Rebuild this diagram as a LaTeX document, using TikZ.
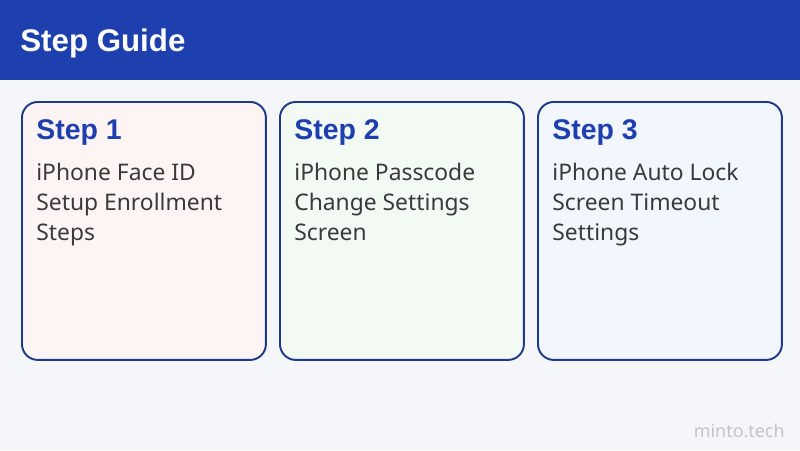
\documentclass[tikz,border=0pt]{standalone}
\usepackage{fontspec}
\setmainfont{Noto Sans}
\newfontfamily\headfont{Liberation Sans}
\usepackage{xcolor}
\usetikzlibrary{positioning}

\definecolor{pagebg}{HTML}{F5F6FA}
\definecolor{headblue}{HTML}{1E40AF}
\definecolor{cardline}{HTML}{1E3A8A}
\definecolor{redtint}{HTML}{FFF4F4}
\definecolor{greentint}{HTML}{F3FAF3}
\definecolor{bluetint}{HTML}{F1F6FF}
\definecolor{bodygray}{HTML}{3A3A3A}
\definecolor{markgray}{HTML}{C2C3CB}

\begin{document}
\begin{tikzpicture}[
  x=0.02cm, y=-0.02cm,
  card/.style={rectangle, rounded corners=9pt, draw=cardline, line width=1.1pt, minimum width=4.88cm, minimum height=5.16cm, anchor=north west, inner sep=0pt},
  stephead/.style={anchor=base west, inner sep=0pt, text=headblue, font=\headfont\fontsize{16.2}{18}\selectfont\bfseries},
  stepbody/.style={anchor=north west, inner sep=0pt, align=left, text=bodygray, font=\fontsize{13}{17.1}\selectfont}
]
  % Page and header band
  \fill[pagebg] (0,0) rectangle (800,450);
  \useasboundingbox (0,0) rectangle (800,450);
  \fill[headblue] (0,0) rectangle (800,80);
  \node[anchor=base west, inner sep=0pt, text=white, font=\headfont\fontsize{17.8}{20}\selectfont\bfseries] (title) at (20,51) {Step Guide};

  % Cards
  \node[card, fill=redtint] (card1) at (21,101) {};
  \node[card, fill=greentint] (card2) at (279,101) {};
  \node[card, fill=bluetint] (card3) at (537,101) {};

  % Card headings
  \node[stephead] (head1) at (36,139) {Step 1};
  \node[stephead] (head2) at (294,139) {Step 2};
  \node[stephead] (head3) at (552,139) {Step 3};

  % Card texts
  \node[stepbody] (body1) at (36,163) {iPhone Face ID\\Setup Enrollment\\Steps};
  \node[stepbody] (body2) at (294,163) {iPhone Passcode\\Change Settings\\Screen};
  \node[stepbody] (body3) at (552,163) {iPhone Auto Lock\\Screen Timeout\\Settings};

  % Watermark
  \node[anchor=base east, inner sep=0pt, text=markgray, font=\fontsize{10.2}{12}\selectfont] (mark) at (785,437) {minto.tech};
\end{tikzpicture}
\end{document}
